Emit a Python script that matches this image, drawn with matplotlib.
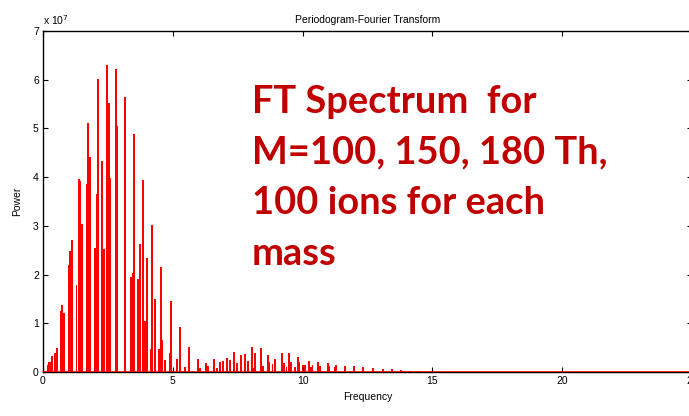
import matplotlib.pyplot as plt
import numpy as np

# peak positions (frequency) and power in units of 1e7
freq = [0.20, 0.24, 0.28, 0.33, 0.47, 0.54, 0.68, 0.74, 0.82, 1.00, 1.04, 1.10,
        1.29, 1.39, 1.43, 1.52, 1.71, 1.75, 1.81, 1.99, 2.06, 2.11, 2.27, 2.34,
        2.45, 2.55, 2.59, 2.80, 2.86, 3.14, 3.16, 3.40, 3.45, 3.51, 3.65, 3.72,
        3.87, 3.92, 4.01, 4.16, 4.20, 4.32, 4.46, 4.55, 4.60, 4.71, 4.89, 4.92,
        5.16, 5.26, 5.48, 5.62, 5.96, 6.04, 6.27, 6.35, 6.58, 6.60, 6.70, 6.81,
        6.92, 7.10, 7.19, 7.34, 7.48, 7.62, 7.77, 7.88, 8.05, 8.09, 8.16, 8.38,
        8.47, 8.66, 8.72, 8.84, 8.93, 9.20, 9.27, 9.38, 9.49, 9.54, 9.72, 9.81,
        9.87, 10.00, 10.10, 10.24, 10.31, 10.38, 10.61, 10.66, 10.96, 11.00,
        11.25, 11.29, 11.63, 11.98, 12.34, 12.72, 13.08, 13.44, 13.80, 14.15, 14.50]
power = [0.14, 0.21, 0.20, 0.33, 0.40, 0.49, 1.26, 1.37, 1.21, 2.20, 2.49, 2.71,
         1.79, 3.96, 3.93, 3.04, 3.86, 5.12, 4.42, 2.54, 3.65, 6.02, 4.33, 2.53,
         6.30, 5.52, 3.99, 6.23, 5.05, 1.83, 5.64, 1.94, 2.03, 4.89, 1.91, 2.62,
         3.94, 1.05, 2.34, 0.47, 3.02, 1.49, 0.47, 2.16, 0.66, 0.25, 0.38, 1.46,
         0.27, 0.93, 0.10, 0.52, 0.27, 0.08, 0.18, 0.13, 0.26, 0.14, 0.08, 0.20,
         0.22, 0.29, 0.25, 0.41, 0.19, 0.34, 0.36, 0.22, 0.51, 0.08, 0.38, 0.49,
         0.12, 0.35, 0.21, 0.16, 0.27, 0.38, 0.19, 0.10, 0.39, 0.20, 0.10, 0.30,
         0.21, 0.14, 0.15, 0.22, 0.10, 0.15, 0.20, 0.13, 0.18, 0.12,
         0.10, 0.15, 0.13, 0.12, 0.11, 0.09, 0.07, 0.06, 0.05, 0.03, 0.02]

xticks = [0, 5, 10, 15, 20, 25]
yticks = [0, 1, 2, 3, 4, 5, 6, 7]
note_lines = ["FT Spectrum  for", "M=100, 150, 180 Th,", "100 ions for each", "mass"]

plt.rcParams['font.family'] = ['Liberation Sans', 'DejaVu Sans']

fig = plt.figure(figsize=(6.89, 4.16), dpi=100)
ax = fig.add_axes([0.0624, 0.1058, 0.942, 0.8197])

ax.bar(freq, power, width=0.075, color='#ff0000', linewidth=0)
ax.axhline(0, color='#ff0000', lw=1.2, zorder=3)

ax.set_xlim(0, 25)
ax.set_ylim(0, 7)
ax.set_xticks(xticks)
ax.set_yticks(yticks)
ax.tick_params(direction='in', top=True, right=True, length=3.5, width=0.8,
               labelsize=7.5, pad=3)
for s in ax.spines.values():
    s.set_linewidth(1.0)

ax.set_title("Periodogram-Fourier Transform", fontsize=7.5, pad=6)
ax.set_xlabel("Frequency", fontsize=7.5, labelpad=4)
ax.set_ylabel("Power", fontsize=7.5, labelpad=8)
ax.text(0.0, 1.012, r"x 10$^7$", transform=ax.transAxes, fontsize=7.5,
        ha='left', va='bottom')

# big annotation, one line at a time so the spacing matches
baselines = [0.7595, 0.6129, 0.4633, 0.3138]
for line, yb in zip(note_lines, baselines):
    ax.text(0.322, yb, line, transform=ax.transAxes, fontsize=27.4,
            fontweight='bold', color='#c00000', family=['Lato', 'DejaVu Sans'],
            ha='left', va='baseline')

fig.savefig("out.png", dpi=100)
